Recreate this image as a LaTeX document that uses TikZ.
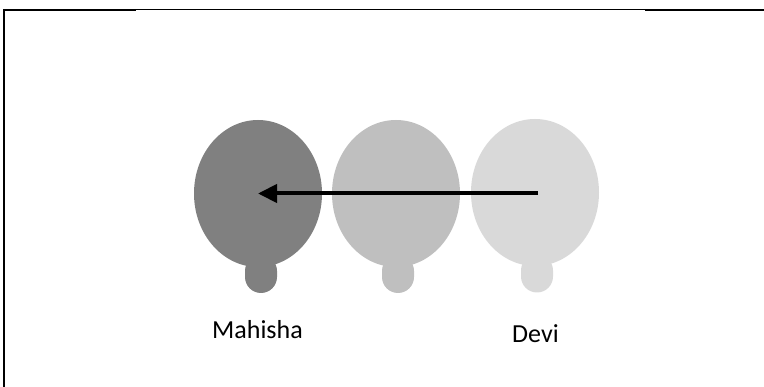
\documentclass[tikz,border=0pt]{standalone}
\usepackage{fontspec}
\setmainfont{Carlito}
\usetikzlibrary{arrows.meta,shapes.geometric}
\definecolor{gA}{HTML}{808080}
\definecolor{gB}{HTML}{BFBFBF}
\definecolor{gC}{HTML}{D9D9D9}
\tikzset{
  head/.style={ellipse, inner sep=0pt, draw=none, minimum width=128pt, minimum height=147pt},
  bump/.style={rectangle, rounded corners=16pt, inner sep=0pt, draw=none, minimum width=32pt, minimum height=38pt},
  lbl/.style={anchor=base, inner sep=0pt, font=\fontsize{26}{31}\selectfont},
  frame/.style={line width=2pt},
  thinframe/.style={line width=1pt},
  conn/.style={line width=4pt, -{Triangle[length=19pt,width=18pt]}}
}
\begin{document}
\begin{tikzpicture}[x=1pt,y=-1pt]
\useasboundingbox (0,0) rectangle (764,387);
% frame
\coordinate (f1) at (4,387);
\coordinate (f2) at (4,10);
\coordinate (f3) at (136,10);
\coordinate (f4) at (645,10);
\coordinate (f5) at (764,10);
\draw[frame] (f1) -- (f2) -- (f3);
\draw[thinframe] (f3) -- (f4);
\draw[frame] (f4) -- (f5);
% blobs
\node[bump, fill=gA] (mb) at (261,274) {};
\node[head, fill=gA] (m) at (258,193.5) {};
\node[bump, fill=gB] (cb) at (398,274) {};
\node[head, fill=gB] (c) at (396,193.5) {};
\node[bump, fill=gC] (db) at (537,273.5) {};
\node[head, fill=gC] (d) at (535,192.5) {};
% connector
\draw[conn] (538,193.5) coordinate (ds) -- (m.center);
% labels
\node[lbl] (lm) at (257.5,339) {Mahisha};
\node[lbl] (ld) at (535.5,343) {Devi};
\end{tikzpicture}
\end{document}
